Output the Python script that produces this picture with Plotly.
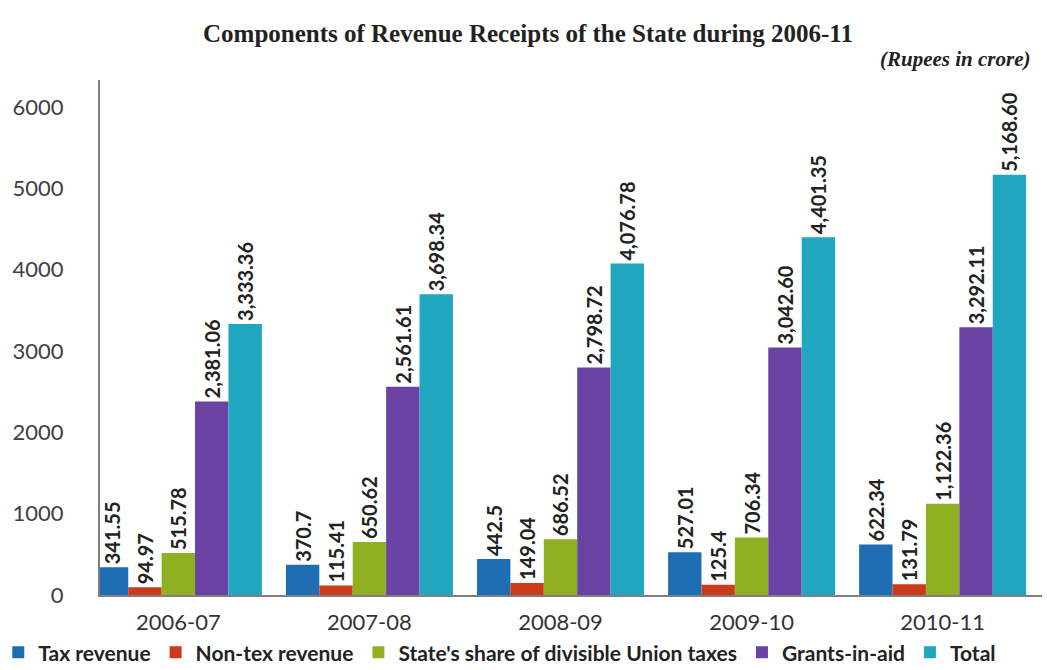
import plotly.graph_objects as go

years = ["2006-07", "2007-08", "2008-09", "2009-10", "2010-11"]

tax_revenue = [341.55, 370.7, 442.5, 527.01, 622.34]
non_tax_revenue = [94.97, 115.41, 149.04, 125.4, 131.79]
union_tax_share = [515.78, 650.62, 686.52, 706.34, 1122.36]
grants_in_aid = [2381.06, 2561.61, 2798.72, 3042.60, 3292.11]
total = [3333.36, 3698.34, 4076.78, 4401.35, 5168.60]

series_names = ["Tax revenue", "Non-tex revenue",
                "State's share of divisible Union taxes", "Grants-in-aid", "Total"]
series_values = [tax_revenue, non_tax_revenue, union_tax_share, grants_in_aid, total]
series_colors = ["#1f6db3", "#cc3a1b", "#8fb020", "#6a42a3", "#20a6c0"]

y_ticks = [0, 1000, 2000, 3000, 4000, 5000, 6000]


def fmt(v):
    if v >= 1000:
        return f"{v:,.2f}"
    return f"{v:g}"


fig = go.Figure()
for name, vals, color in zip(series_names, series_values, series_colors):
    fig.add_trace(go.Bar(
        x=years, y=vals, name=name,
        marker=dict(color=color, line=dict(width=0)),
        text=[fmt(v) for v in vals],
        textposition="outside", textangle=-90, constraintext="none",
        textfont=dict(family="Lato", size=20, color="#222222", weight="bold"),
        cliponaxis=False,
    ))

fig.update_layout(
    width=1047, height=670,
    margin=dict(l=100, r=5, t=80, b=75, autoexpand=False),
    paper_bgcolor="white", plot_bgcolor="white",
    barmode="group", bargap=0.126, bargroupgap=0,
    showlegend=True,
    legend=dict(orientation="h", x=-0.108, xanchor="left", y=-0.112, yanchor="middle",
                font=dict(family="Lato", size=21, color="#222222", weight="bold"),
                itemwidth=30, tracegroupgap=0, itemclick=False),
    xaxis=dict(type="category", range=[-0.41, 4.52], showline=True, linecolor="#7f7f7f",
               linewidth=2, ticks="", showgrid=False, ticklabelstandoff=7,
               automargin=False,
               tickfont=dict(family="Lato", size=22, color="#333333")),
    yaxis=dict(range=[0, 6334], tickvals=y_ticks, showline=True, linecolor="#7f7f7f",
               linewidth=2, ticks="", showgrid=False, zeroline=False,
               ticklabelstandoff=30, automargin=False,
               tickfont=dict(family="Lato", size=22, color="#404040")),
    annotations=[
        dict(text="<b>Components of Revenue Receipts of the State during 2006-11</b>",
             xref="paper", yref="paper", x=0.454, y=1.0, yshift=62, showarrow=False,
             font=dict(family="Liberation Serif", size=25, color="#222222")),
        dict(text="<b><i>(Rupees in crore)</i></b>",
             xref="paper", yref="paper", x=0.99, xanchor="right", y=1.0, yshift=35,
             showarrow=False,
             font=dict(family="Liberation Serif", size=21, color="#222222")),
    ],
)

fig.write_html("out.html")
